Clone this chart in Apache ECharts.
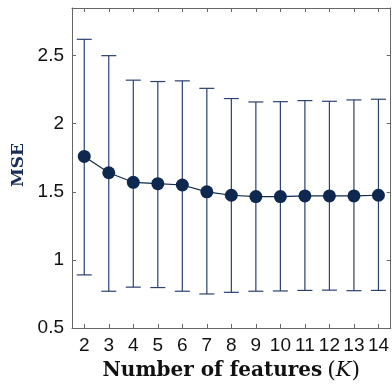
<!DOCTYPE html>
<html><head><meta charset="utf-8">
<script src="https://cdn.jsdelivr.net/npm/echarts@6/dist/echarts.min.js"></script>
<style>html,body{margin:0;padding:0;background:#fff}#c{width:392px;height:388px}</style>
</head><body><div id="c"></div>
<script>
const categories = ['2','3','4','5','6','7','8','9','10','11','12','13','14'];
const meanMSE = [1.76, 1.64, 1.57, 1.56, 1.55, 1.50, 1.475, 1.465, 1.465, 1.47, 1.47, 1.47, 1.475];
const upperMSE = [2.62, 2.50, 2.32, 2.31, 2.315, 2.26, 2.185, 2.16, 2.162, 2.17, 2.165, 2.175, 2.18];
const lowerMSE = [0.89, 0.77, 0.80, 0.797, 0.77, 0.75, 0.762, 0.77, 0.772, 0.776, 0.778, 0.774, 0.776];
const yTicks = [0.5, 1, 1.5, 2, 2.5];

const navy = '#0f2850';
const barColor = '#2b4170';
const frame = '#666666';

const errData = categories.map((c, i) => [i, lowerMSE[i], upperMSE[i]]);

const chart = echarts.init(document.getElementById('c'), null, {renderer: 'canvas'});
const tickFont = {fontFamily: 'Liberation Sans, Arial, sans-serif', fontSize: 19, color: '#111'};
chart.setOption({
  animation: false,
  backgroundColor: '#fff',
  grid: {left: 72, right: 1, top: 8, bottom: 60, containLabel: false},
  xAxis: [{
    type: 'category', data: categories, boundaryGap: true, position: 'bottom',
    axisLine: {show: true, lineStyle: {color: frame, width: 1}},
    axisTick: {show: true, inside: true, alignWithLabel: true, length: 4, lineStyle: {color: frame}},
    axisLabel: Object.assign({margin: 8, interval: 0}, tickFont),
    splitLine: {show: false},
    name: '{b|Number of features}{n|(}{i|K}{n|)}',
    nameLocation: 'middle', nameGap: 30,
    nameTextStyle: {
      rich: {
        b: {fontFamily: 'DejaVu Serif', fontWeight: 'bold', fontSize: 20, color: '#111', padding: [0, 5, 0, 0]},
        n: {fontFamily: 'DejaVu Serif', fontSize: 22, color: '#111'},
        i: {fontFamily: 'DejaVu Serif', fontStyle: 'italic', fontSize: 21, color: '#111'}
      }
    }
  }, {
    type: 'category', data: categories, boundaryGap: true, position: 'top',
    axisLine: {show: true, lineStyle: {color: frame, width: 1}},
    axisTick: {show: true, inside: true, alignWithLabel: true, length: 4, lineStyle: {color: frame}},
    axisLabel: {show: false}, splitLine: {show: false}
  }],
  yAxis: [{
    type: 'value', min: 0.5, max: 2.85, interval: 0.5, position: 'left',
    axisLine: {show: true, lineStyle: {color: frame, width: 1}},
    axisTick: {show: true, inside: true, length: 4, lineStyle: {color: frame}},
    axisLabel: Object.assign({margin: 8, formatter: v => yTicks.some(t => Math.abs(t - v) < 1e-6) ? String(v) : ''}, tickFont),
    splitLine: {show: false},
    name: 'MSE', nameLocation: 'middle', nameRotate: 90, nameGap: 44,
    nameTextStyle: {fontFamily: 'DejaVu Serif', fontWeight: 'bold', fontSize: 17, color: '#1a2f58', padding: [0, 0, 0, 6]}
  }, {
    type: 'value', min: 0.5, max: 2.85, interval: 0.5, position: 'right',
    axisLine: {show: true, lineStyle: {color: frame, width: 1}},
    axisTick: {show: true, inside: true, length: 4, lineStyle: {color: frame}},
    axisLabel: {show: false}, splitLine: {show: false}
  }],
  series: [{
    type: 'custom', xAxisIndex: 0, yAxisIndex: 0, z: 2,
    data: errData,
    renderItem: function (params, api) {
      const x = api.value(0);
      const lo = api.coord([x, api.value(1)]);
      const hi = api.coord([x, api.value(2)]);
      const hw = 7.5;
      const st = {stroke: barColor, lineWidth: 1.2};
      return {type: 'group', children: [
        {type: 'line', shape: {x1: lo[0], y1: lo[1], x2: hi[0], y2: hi[1]}, style: st},
        {type: 'line', shape: {x1: hi[0] - hw, y1: hi[1], x2: hi[0] + hw, y2: hi[1]}, style: st},
        {type: 'line', shape: {x1: lo[0] - hw, y1: lo[1], x2: lo[0] + hw, y2: lo[1]}, style: st}
      ]};
    }
  }, {
    type: 'line', xAxisIndex: 0, yAxisIndex: 0, z: 3,
    data: meanMSE,
    symbol: 'circle', symbolSize: 13,
    lineStyle: {color: navy, width: 1.2},
    itemStyle: {color: navy, borderWidth: 0}
  }]
});
</script></body></html>
